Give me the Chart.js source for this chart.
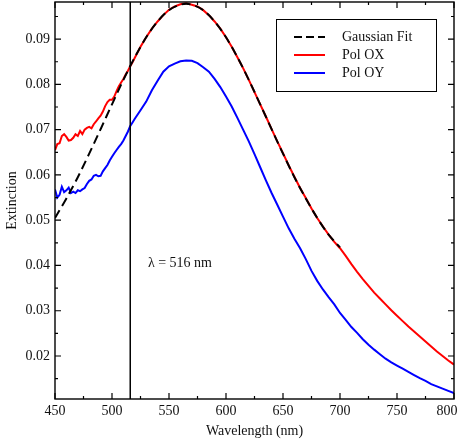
<!DOCTYPE html>
<html><head><meta charset="utf-8">
<script src="https://cdn.jsdelivr.net/npm/chart.js@4.4.1/dist/chart.umd.min.js"></script>
<style>html,body{margin:0;padding:0;background:#fff;}canvas{display:block;}</style>
</head><body>
<canvas id="c" width="458" height="444"></canvas>
<script>
// ---- data ----
const seriesNames = ['Gaussian Fit', 'Pol OX', 'Pol OY'];
const xTicks = [450, 500, 550, 600, 650, 700, 750, 800];
const xMinorTicks = [475, 525, 575, 625, 675, 725, 775];
const yTicks = [0.02, 0.03, 0.04, 0.05, 0.06, 0.07, 0.08, 0.09];
const yMinorTicks = [0.015, 0.025, 0.035, 0.045, 0.055, 0.065, 0.075, 0.085, 0.095];
const xRange = [450, 800];
const yRange = [0.0105, 0.0982];
const markerWavelength = 516;
const markerLabel = 'λ = 516 nm';
const markerLabelAt = [531.5, 0.0405];

const fitWavelengths = [450,460,470,480,490,500,510,520,530,540,550,560,565,570,580,590,600,610,620,630,640,650,660,670,680,690,700];
const fitValues = [0.0505,0.0548,0.0595,0.0647,0.0701,0.0756,0.0810,0.0860,0.0904,0.0939,0.0964,0.0976,0.0978,0.0976,0.0964,0.0939,0.0904,0.0860,0.0810,0.0756,0.0701,0.0647,0.0595,0.0548,0.0505,0.0468,0.0440];

const spectrumWavelengths = [450,452,454,456,458,460,462,464,466,468,470,472,474,476,478,480,482,484,486,488,490,492,494,496,498,500,502,504,506,508,510,512,514,516,518,520,
  525,530,535,540,545,550,555,560,565,570,575,580,585,590,595,600,605,610,615,620,625,630,635,640,645,650,655,660,665,670,675,680,685,690,695,700,
  705,710,715,720,725,730,735,740,745,750,755,760,765,770,775,780,785,790,795,800];
const polOX = [0.0655,0.0668,0.0670,0.0686,0.0690,0.0684,0.0676,0.0677,0.0682,0.0690,0.0686,0.0697,0.0690,0.0700,0.0704,0.0706,0.0703,0.0712,0.0718,0.0725,0.0731,0.0740,0.0752,0.0761,0.0766,0.0766,0.0773,0.0785,0.0796,0.0804,0.0812,0.0822,0.0830,0.0840,0.0849,0.0859,
  0.0883,0.0904,0.0923,0.0939,0.0953,0.0965,0.0972,0.0977,0.0979,0.0976,0.0972,0.0964,0.0953,0.0939,0.0923,0.0904,0.0883,0.0860,0.0836,0.0810,0.0783,0.0756,0.0729,0.0701,0.0674,0.0648,0.0621,0.0596,0.0571,0.0549,0.0526,0.0505,0.0486,0.0468,0.0452,0.0438,
  0.0421,0.0403,0.0386,0.0370,0.0355,0.0340,0.0327,0.0314,0.0301,0.0289,0.0277,0.0265,0.0254,0.0243,0.0232,0.0221,0.0210,0.0200,0.0190,0.0181];
const polOY = [0.0568,0.0550,0.0556,0.0574,0.0562,0.0566,0.0572,0.0560,0.0563,0.0560,0.0566,0.0564,0.0568,0.0571,0.0580,0.0587,0.0590,0.0598,0.0600,0.0597,0.0598,0.0608,0.0615,0.0622,0.0632,0.0640,0.0648,0.0655,0.0662,0.0668,0.0676,0.0686,0.0696,0.0708,0.0716,0.0724,
  0.0743,0.0762,0.0787,0.0808,0.0828,0.0840,0.0846,0.0851,0.0853,0.0852,0.0847,0.0838,0.0828,0.0812,0.0794,0.0773,0.0751,0.0726,0.0700,0.0674,0.0646,0.0617,0.0588,0.0560,0.0534,0.0508,0.0482,0.0459,0.0438,0.0414,0.0388,0.0366,0.0347,0.0330,0.0314,0.0295,
  0.0280,0.0264,0.0251,0.0237,0.0225,0.0214,0.0204,0.0194,0.0186,0.0179,0.0172,0.0165,0.0158,0.0151,0.0145,0.0138,0.0133,0.0128,0.0123,0.0118];

// ---- chart ----
const FONT = '"Liberation Serif", "Times New Roman", serif';
const TXT = '#111';
const pts = (xs, ys) => xs.map((x, i) => ({x, y: ys[i]}));

const decorPlugin = {
  id: 'decor',
  afterDatasetsDraw(chart) {
    const {ctx, chartArea: a, scales: {x, y}} = chart;
    ctx.save();
    // marker line
    const mx = x.getPixelForValue(markerWavelength);
    ctx.strokeStyle = '#000';
    ctx.lineWidth = 1.5;
    ctx.beginPath(); ctx.moveTo(mx, a.top); ctx.lineTo(mx, a.bottom); ctx.stroke();
    // frame
    ctx.lineWidth = 1.4;
    ctx.strokeRect(a.left, a.top, a.right - a.left, a.bottom - a.top);
    // inward ticks on all four sides
    ctx.lineWidth = 1.2;
    ctx.beginPath();
    const xt = (v, len) => { const p = x.getPixelForValue(v);
      ctx.moveTo(p, a.bottom); ctx.lineTo(p, a.bottom - len);
      ctx.moveTo(p, a.top); ctx.lineTo(p, a.top + len); };
    const yt = (v, len) => { const p = y.getPixelForValue(v);
      ctx.moveTo(a.left, p); ctx.lineTo(a.left + len, p);
      ctx.moveTo(a.right, p); ctx.lineTo(a.right - len, p); };
    xTicks.forEach(v => xt(v, 6)); xMinorTicks.forEach(v => xt(v, 3));
    yTicks.forEach(v => yt(v, 6)); yMinorTicks.forEach(v => yt(v, 3));
    ctx.stroke();
    ctx.fillStyle = TXT;
    ctx.font = '14px ' + FONT;
    // x tick labels (kept inside the canvas)
    ctx.textBaseline = 'middle';
    ctx.textAlign = 'center';
    xTicks.forEach(v => {
      const s = String(v);
      const w = ctx.measureText(s).width;
      let px = x.getPixelForValue(v);
      px = Math.min(px, chart.width - w / 2 - 0.5);
      ctx.fillText(s, px, a.bottom + 12);
    });
    // annotation text
    ctx.textAlign = 'left';
    ctx.fillText(markerLabel, x.getPixelForValue(markerLabelAt[0]), y.getPixelForValue(markerLabelAt[1]));
    // legend
    const bw = 160, bh = 72;
    const bx = a.right - 18 - bw, by = a.top + 17;
    ctx.fillStyle = '#fff';
    ctx.fillRect(bx, by, bw, bh);
    ctx.lineWidth = 1;
    ctx.strokeStyle = '#000';
    ctx.strokeRect(bx + 0.5, by + 0.5, bw, bh);
    chart.data.datasets.forEach((ds, i) => {
      const ry = by + 18 + i * 18;
      ctx.strokeStyle = ds.borderColor;
      ctx.lineWidth = 2;
      ctx.setLineDash(ds.borderDash && ds.borderDash.length ? [8, 4] : []);
      ctx.beginPath(); ctx.moveTo(bx + 18, ry); ctx.lineTo(bx + 49, ry); ctx.stroke();
      ctx.setLineDash([]);
      ctx.fillStyle = TXT;
      ctx.fillText(ds.label, bx + 66, ry);
    });
    ctx.restore();
  }
};

new Chart(document.getElementById('c'), {
  type: 'line',
  data: {
    datasets: [
      {label: seriesNames[0], data: pts(fitWavelengths, fitValues), borderColor: '#000', borderWidth: 2, borderDash: [9, 5], pointRadius: 0, cubicInterpolationMode: 'monotone', fill: false},
      {label: seriesNames[1], data: pts(spectrumWavelengths, polOX), borderColor: '#ff0000', borderWidth: 2, pointRadius: 0, tension: 0, fill: false},
      {label: seriesNames[2], data: pts(spectrumWavelengths, polOY), borderColor: '#0000ff', borderWidth: 2, pointRadius: 0, tension: 0, fill: false}
    ]
  },
  options: {
    responsive: false,
    animation: false,
    layout: {padding: {top: 2, right: 4, left: 0, bottom: 0}},
    plugins: {legend: {display: false}, tooltip: {enabled: false}},
    scales: {
      x: {
        type: 'linear', min: xRange[0], max: xRange[1],
        grid: {display: false, drawTicks: false}, border: {display: false},
        afterBuildTicks: s => { s.ticks = xTicks.map(v => ({value: v})); },
        afterFit: s => { s.height = 45; s.paddingLeft = 0; s.paddingRight = 0; },
        ticks: {display: false},
        title: {display: true, text: 'Wavelength (nm)', color: TXT, font: {family: FONT, size: 14}, padding: {top: 0, bottom: 4}}
      },
      y: {
        type: 'linear', min: yRange[0], max: yRange[1],
        grid: {display: false, drawTicks: false}, border: {display: false},
        afterBuildTicks: s => { s.ticks = yTicks.map(v => ({value: v})); },
        afterFit: s => { s.width = 55; s.paddingTop = 0; s.paddingBottom = 0; },
        ticks: {color: TXT, font: {family: FONT, size: 14}, padding: 5, autoSkip: false, callback: v => v.toFixed(2)},
        title: {display: true, text: 'Extinction', color: TXT, font: {family: FONT, size: 14}, padding: {top: 4, bottom: 0}}
      }
    }
  },
  plugins: [decorPlugin]
});
</script>
</body></html>
